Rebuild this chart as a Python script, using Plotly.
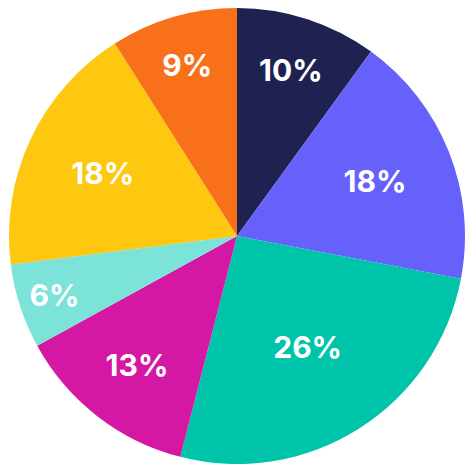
import plotly.graph_objects as go

labels = ["A", "B", "C", "D", "E", "F", "G"]
values = [10, 18, 26, 13, 6, 18, 9]
colors = ["#1f2250", "#6761fb", "#00c4aa", "#d418a4", "#7ce3d8", "#fdc80f", "#f9701a"]

fig = go.Figure(go.Pie(
    labels=labels, values=values, sort=False, direction="clockwise", rotation=0,
    marker=dict(colors=colors, line=dict(width=0)),
    textinfo="percent", texttemplate="%{percent:.0%}", textposition="inside",
    insidetextorientation="horizontal",
    textfont=dict(color="white", size=30, family="Inter", weight="bold"),
    domain=dict(x=[0, 1], y=[0, 1]),
    showlegend=False,
))
fig.update_layout(autosize=True, margin=dict(l=0, r=0, t=0, b=0),
                  paper_bgcolor="white")
fig.write_html("out.html", config={"responsive": True}, default_width="100%", default_height="100%")
